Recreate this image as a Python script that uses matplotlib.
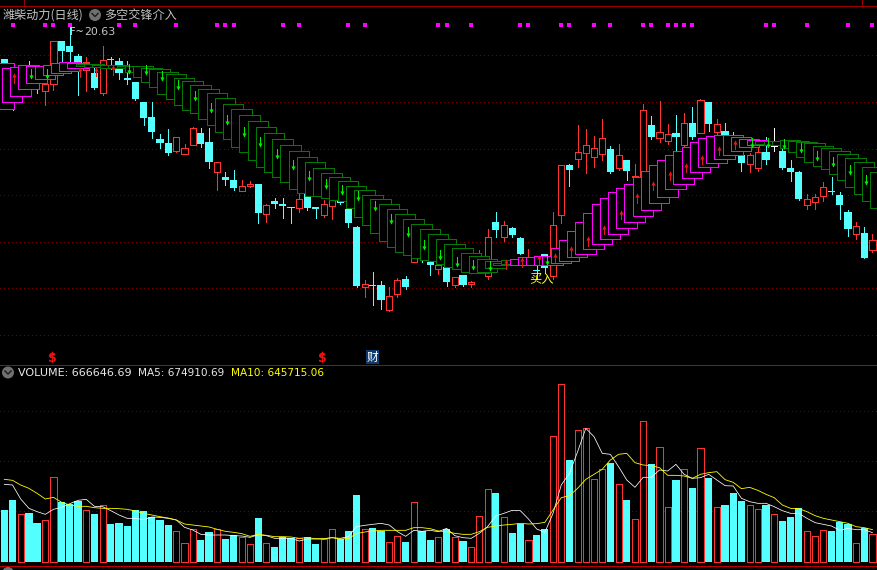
import matplotlib
matplotlib.use("Agg")
import matplotlib.pyplot as plt
import numpy as np

W, H = 877, 570
TICK = 0.028      # price per chart tick
P0 = 21.386       # price at tick 0 (top of the pane)
LOT = 8000        # volume per volume unit

# --- candles, in ticks below P0 ---
BODY_TOP = [59,70,70,68,68,84,41,41,46,56,62,73,60,59,61,78,82,102,117,139,143,137,148,128,133,142,162,177,180,186,
            184,184,205,201,204,207,199,193,207,204,197,190,209,227,284,285,285,296,280,279,254,245,262,265,267,277,
            275,282,258,237,222,225,228,238,259,270,254,225,165,165,152,145,148,138,149,155,160,176,110,125,132,134,
            133,123,123,100,102,124,131,138,155,155,152,152,146,151,168,172,199,197,187,191,195,212,226,233,240]
BODY_BOT = [68,100,95,85,82,91,84,51,52,63,70,88,93,60,73,80,99,118,132,143,153,151,154,145,144,162,172,180,188,191,
            186,213,214,204,206,208,208,208,209,215,206,203,223,286,287,286,300,310,294,287,262,258,265,269,282,285,
            285,284,270,276,230,237,235,254,265,271,268,276,215,170,159,153,157,154,172,168,171,177,176,137,138,141,
            137,145,137,133,124,132,135,150,163,164,168,160,147,168,172,199,205,202,196,192,205,229,234,258,250]
HIGH = [59,68,68,61,66,70,41,41,27,54,57,68,46,57,58,61,82,102,102,134,129,137,144,127,128,128,162,172,170,180,
        181,184,204,198,198,207,194,193,207,200,195,186,205,226,280,272,281,287,278,276,250,243,261,265,265,277,
        275,281,250,229,212,221,227,237,249,266,254,212,165,164,125,129,136,119,146,144,160,164,104,116,101,124,
        115,113,107,99,102,119,123,132,150,153,148,137,128,147,160,171,194,194,182,177,192,210,222,227,234]
LOW = [68,110,97,88,93,105,90,62,62,95,91,89,95,69,79,84,100,125,138,148,155,152,154,145,147,168,190,185,190,191,
       187,223,222,208,218,223,212,210,218,217,219,204,227,287,297,305,309,311,297,289,262,262,275,274,286,287,
       286,287,271,279,237,241,237,254,265,279,273,279,223,186,167,173,167,160,173,170,180,178,178,139,142,144,
       151,151,139,133,131,134,140,152,171,172,171,164,151,169,181,200,209,209,201,194,219,236,239,258,252]
RED_CANDLES = [2,5,6,10,12,21,22,23,26,29,30,32,36,39,40,44,47,48,50,53,55,57,58,59,61,64,67,68,70,71,72,73,75,77,78,
               80,81,83,85,87,91,92,98,99,100,104,106]
WHITE_CANDLES = [94]

# --- double-sided indicator boxes, bar -1 .. 106, in ticks below P0 ---
BOX_TOP = [63,68,67,65,66,66,65,63,62,63,64,64,65,65,65,66,66,66,68,69,72,74,78,81,85,89,93,98,104,109,115,121,127,133,
           139,145,151,157,162,168,173,177,181,186,190,195,199,204,209,214,219,224,229,234,239,244,248,253,256,259,
           261,263,260,259,257,257,256,256,248,240,231,222,213,204,198,192,188,184,177,171,165,160,155,151,147,142,
           138,136,135,135,137,139,140,141,141,141,140,141,142,143,146,148,151,154,158,162,167,172]
BOX_BOT = [109,102,96,89,83,79,75,73,71,68,66,67,67,68,68,68,72,77,82,87,94,99,105,110,113,119,125,132,139,147,152,160,
           167,172,177,182,189,193,196,196,198,200,201,208,217,225,233,241,247,252,255,258,260,261,264,267,269,272,
           273,272,268,265,264,265,265,265,265,265,263,261,257,254,249,244,239,234,228,222,216,210,203,197,189,184,
           178,172,167,163,159,155,151,147,145,144,145,145,148,152,157,162,166,169,174,180,187,194,201,208]
MAGENTA_RUNS = [(-1, 8), (62, 91)]

# --- arrows ---
ARROW_BAR = [1,3,5,9,11,13,15,17,19,21,23,25,27,29,31,33,35,37,39,41,43,45,47,49,51,53,55,57,59,61,63,65,66,67,69,71,73,
             75,77,79,81,83,85,87,89,91,93,95,97,99,101,103,105]
ARROW_TOP = [74,69,69,68,68,66,64,65,71,80,91,103,115,127,137,149,160,171,179,185,191,201,214,227,240,250,257,260,261,
             260,258,256,256,254,247,237,226,211,194,182,172,164,156,147,141,138,138,139,143,151,157,165,175]
ARROW_BOT = [83,78,78,77,76,75,73,74,80,89,100,112,124,136,146,158,169,180,188,194,200,210,223,236,249,259,266,269,270,
             269,267,265,264,262,256,246,234,219,203,190,180,172,164,155,149,147,147,148,152,160,166,174,184]
ARROW_UP = [1,0,0,1,1,1,0,0,0,0,0,0,0,0,0,0,0,0,0,0,0,0,0,0,0,0,0,0,0,1,1,1,0,1,1,1,1,1,1,1,1,1,1,1,1,0,0,0,0,0,0,0,0]

DOT_BARS = [1,5,6,8,14,16,21,26,27,28,34,36,42,44,53,54,57,63,64,68,69,72,74,78,79,81,82,83,84,93,94,98,103,106]
DOT_TICK = 24.7
GRID_TICKS = [55, 102, 149, 195, 242, 288, 335]

# --- volume, in units of LOT ---
VOL = [156,186,143,147,117,125,254,181,174,183,155,144,170,114,117,108,156,153,135,126,111,92,56,100,66,90,98,69,81,74,
       53,132,56,45,75,72,71,74,54,69,98,69,93,201,98,102,94,59,77,60,179,93,66,74,99,74,63,44,137,218,207,134,87,115,
       65,81,99,377,533,306,395,401,248,278,297,233,186,128,422,294,344,164,246,278,222,341,252,164,171,207,183,170,
       158,171,143,123,135,161,92,77,95,93,121,114,56,103,83]
VOL_RED = [2,5,6,10,12,21,22,23,26,29,30,32,36,39,40,44,47,48,50,53,55,57,58,59,61,64,67,68,70,71,72,73,75,77,78,80,81,
           83,85,87,91,92,94,98,99,100,104,106]
MA5 = [233,231,189,161,151,143,158,164,175,185,188,167,166,154,141,131,131,127,135,134,131,126,104,96,83,81,81,81,79,78,
       74,82,79,71,71,71,63,69,69,69,73,71,76,106,110,113,116,111,91,77,95,92,95,91,
       101,79,73,71,86,106,138,146,155,154,129,99,89,146,231,266,331,401,376,326,323,286,246,224,254,254,276,273,293,263,
       251,253,263,246,229,228,191,181,176,176,166,154,146,146,131,118,113,108,95,101,97,97,88]
MA10 = [248,245,231,221,206,189,194,179,171,167,167,163,161,161,160,158,153,146,141,136,132,126,114,111,108,105,98,92,89,
        85,77,83,80,76,76,75,71,73,70,70,73,69,70,85,90,93,95,95,95,95,103,103,100,93,
        91,86,83,83,91,104,108,111,113,116,114,115,119,156,193,199,221,248,263,278,306,323,326,298,291,289,283,260,260,258,
        251,263,268,271,247,239,220,224,215,203,193,171,161,160,151,139,131,126,121,116,106,103,97]
VOL_GRID = [453, 303, 153]

# --- palette ---
RED = "#ff3232"; CYAN = "#54ffff"; MAGENTA = "#ff00ff"; DGREEN = "#047a04"
GRID = "#7a0000"; BRIGHT_LINE = "#c00000"; GREY = "#c4c4c4"
px = 72.0 / 100.0

plt.rcParams["font.family"] = ["Noto Sans CJK SC", "DejaVu Sans"]
fig = plt.figure(figsize=(W / 100, H / 100), dpi=100, facecolor="black")

def price(t):
    return P0 - TICK * np.asarray(t, dtype=float)

XL = (-4.33 / 8.19, (W - 4.33) / 8.19)
bars = np.arange(len(VOL))

# price pane
ax = fig.add_axes([0, 1 - 364 / H, 1, 364 / H])
ax.set_xlim(*XL); ax.set_ylim(price(364), price(0)); ax.axis("off")
ax.hlines(price(GRID_TICKS), *XL, color=GRID, lw=px, linestyle=(0, (1, 3)), zorder=1, antialiased=False)

for i in range(len(BODY_TOP)):
    red = i in RED_CANDLES
    col = RED if red else ("white" if i in WHITE_CANDLES else CYAN)
    ax.vlines(i, price(LOW[i]), price(HIGH[i]), color=col, lw=px, zorder=2, antialiased=False)
    top, bot = price(BODY_TOP[i]), price(BODY_BOT[i])
    if red:
        ax.bar(i, top - bot, bottom=bot, width=0.74, facecolor="black", edgecolor=col,
               lw=px, zorder=3, antialiased=False)
    else:
        ax.bar(i, top - bot, bottom=bot, width=0.88, facecolor=col, edgecolor="none",
               zorder=3, antialiased=False)

def is_magenta(i):
    return any(a <= i <= b for a, b in MAGENTA_RUNS)

arrow_at = {b: n for n, b in enumerate(ARROW_BAR)}
for n, (t, b) in enumerate(zip(BOX_TOP, BOX_BOT)):
    i = n - 1
    z = 10 + n * 0.1
    ax.bar(i - 0.3, price(t) - price(b), bottom=price(b), width=2.5, align="edge", facecolor="black",
           edgecolor=MAGENTA if is_magenta(i) else DGREEN, lw=px, zorder=z, antialiased=False)
    if i in arrow_at:
        m = arrow_at[i]
        up = ARROW_UP[m]
        col = "#e81818" if up else "#00f000"
        ax.vlines(i + 0.24, price(ARROW_BOT[m]), price(ARROW_TOP[m]), color=col, lw=px, zorder=z + 0.05,
                  antialiased=False)
        tip = ARROW_TOP[m] if up else ARROW_BOT[m]
        ax.plot([i + 0.24], [price(tip + (1 if up else -1))], marker="^" if up else "v", ms=3.0, color=col,
                mec="none", zorder=z + 0.05)

ax.scatter(DOT_BARS, price([DOT_TICK] * len(DOT_BARS)), marker="s", s=5, color=MAGENTA, lw=0, zorder=30)

ax.annotate("F~", xy=(8, price(HIGH[8])), xytext=(0, 0), textcoords="offset pixels", color="#dddddd", fontsize=7,
            family="DejaVu Sans", va="top", ha="left", zorder=40)
ax.annotate("20.63", xy=(8, price(HIGH[8])), xytext=(14, -5), textcoords="offset pixels", color=GREY, fontsize=7.9,
            family="DejaVu Sans", va="center", ha="left", zorder=40)
ax.text(65.6, price(278.5), "买入", color="#ffff20", fontsize=8.8, ha="center", va="center", zorder=40)

# volume pane
vx = fig.add_axes([0, 1 - 565 / H, 1, 200 / H])
vx.set_xlim(*XL); vx.set_ylim(-9 * LOT, 591 * LOT); vx.axis("off")
vol = np.array(VOL) * LOT
vx.hlines(np.array(VOL_GRID) * LOT, *XL, color=GRID, lw=px, linestyle=(0, (1, 3)), zorder=1, antialiased=False)
for i in bars:
    if i in VOL_RED:
        vx.bar(i, vol[i], width=0.74, facecolor="black", edgecolor=RED, lw=px, zorder=3, antialiased=False)
    else:
        vx.bar(i, vol[i], width=0.88, facecolor=CYAN, edgecolor="none", zorder=3, antialiased=False)
vx.plot(bars, np.array(MA5) * LOT, color="white", lw=0.55, zorder=5)
vx.plot(bars, np.array(MA10) * LOT, color="#ffff00", lw=0.6, zorder=6)

# frame, icons, text
d = fig.add_axes([0, 0, 1, 1], facecolor="none")
d.set_xlim(0, W); d.set_ylim(H, 0); d.axis("off")
d.plot([0, W], [5.5, 5.5], color="#a00000", lw=px, antialiased=False)
d.plot([24, 24], [0, 5.5], color="#a00000", lw=px, antialiased=False)
d.plot([861.5, 861.5], [0, 5.5], color="#a00000", lw=px, antialiased=False)
d.plot([0, W], [364.5, 364.5], color=BRIGHT_LINE, lw=px, antialiased=False)
d.plot([0, W], [565.5, 565.5], color=BRIGHT_LINE, lw=px, antialiased=False)

def icon(x, y, r=6):
    d.add_patch(plt.Circle((x, y), r, color="#707070", lw=0))
    d.plot([x - 3, x, x + 3], [y - 1.5, y + 1.5, y - 1.5], color="#202020", lw=1.5 * px)

icon(95, 15)
icon(8, 372.5)
icon(8, 573)
d.text(3, 15, "潍柴动力(日线)", color=GREY, fontsize=8.7, va="center", ha="left")
d.text(104, 15, "多空交锋介入", color=GREY, fontsize=8.7, va="center", ha="left")
d.text(18, 372.5, "VOLUME: 666646.69", color="#e8e8e8", fontsize=8.0, va="center", ha="left", family="DejaVu Sans")
d.text(138, 372.5, "MA5: 674910.69", color="#e8e8e8", fontsize=7.6, va="center", ha="left", family="DejaVu Sans")
d.text(231, 372.5, "MA10: 645715.06", color="#ffff00", fontsize=7.6, va="center", ha="left", family="DejaVu Sans")

for xb in (6, 39):
    xp = 4.33 + 8.19 * xb - 1.5
    d.text(xp, 358.5, "$", color="#ee1010", fontsize=9, fontweight="bold", family="DejaVu Sans", ha="center", va="center")
    d.plot([xp], [352.5], marker="^", ms=3.5, color="#ee1010", mec="none")
d.text(372.5, 357, "财", color="white", fontsize=8.5, ha="center", va="center",
       bbox=dict(boxstyle="square,pad=0.08", fc="#0c3a6c", ec="none"))

fig.savefig("out.png", dpi=100, facecolor="black")
